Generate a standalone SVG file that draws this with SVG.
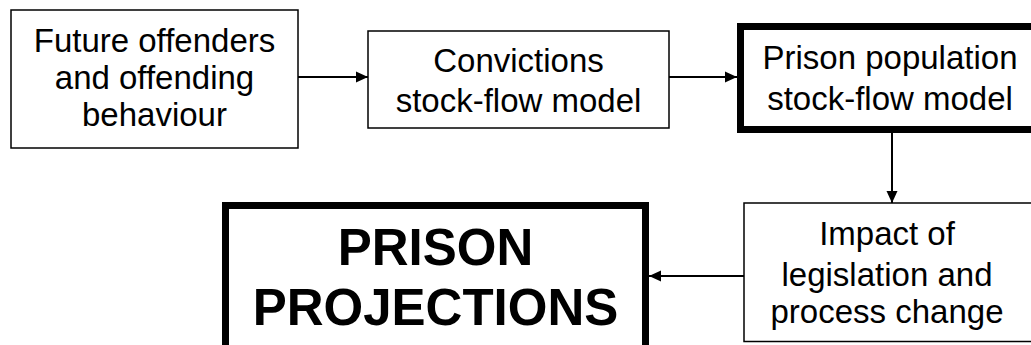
<svg xmlns="http://www.w3.org/2000/svg" width="1031" height="345" viewBox="0 0 1031 345">
<style>
.thin{fill:#fff;stroke:#000;stroke-width:1.5}
.thick{fill:#fff;stroke:#000;stroke-width:7}
.t{font-family:"Liberation Sans",Arial,sans-serif;font-size:33px;fill:#000;text-anchor:middle}
.big{font-family:"Liberation Sans",Arial,sans-serif;font-size:51px;font-weight:bold;fill:#000;text-anchor:middle}
.c{stroke:#000;stroke-width:2;fill:none;marker-end:url(#ah)}
</style>
<defs>
<marker id="ah" markerWidth="12" markerHeight="12" refX="12" refY="6" orient="auto" markerUnits="userSpaceOnUse">
<path d="M0,0.5 L12,6 L0,11.5 z" fill="#000"/>
</marker>
</defs>
<rect width="1031" height="345" fill="#fff"/>
<g id="n1">
<rect class="thin" x="11" y="10" width="287" height="138"/>
<text class="t" x="154.5" y="52">Future offenders</text>
<text class="t" x="154.5" y="89">and offending</text>
<text class="t" x="154.5" y="126">behaviour</text>
</g>
<g id="n2">
<rect class="thin" x="368" y="31" width="301" height="97"/>
<text class="t" x="518.5" y="72">Convictions</text>
<text class="t" x="518.5" y="112">stock-flow model</text>
</g>
<g id="n3">
<rect class="thick" x="740.5" y="26.5" width="300" height="103"/>
<text class="t" x="890" y="69">Prison population</text>
<text class="t" x="890" y="110">stock-flow model</text>
</g>
<g id="n4">
<rect class="thin" x="744" y="203" width="300" height="138.5"/>
<text class="t" x="887" y="245">Impact of</text>
<text class="t" x="887" y="286">legislation and</text>
<text class="t" x="887" y="323">process change</text>
</g>
<g id="n5">
<rect class="thick" x="225.5" y="205.5" width="420" height="180"/>
<text class="big" x="435.5" y="265">PRISON</text>
<text class="big" x="435.5" y="325">PROJECTIONS</text>
</g>
<g id="connectors">
<line class="c" x1="298" y1="77" x2="368" y2="77"/>
<line class="c" x1="669" y1="77" x2="737" y2="77"/>
<line class="c" x1="892" y1="133" x2="892" y2="203"/>
<line class="c" x1="744" y1="276" x2="649" y2="276"/>
</g>
</svg>
